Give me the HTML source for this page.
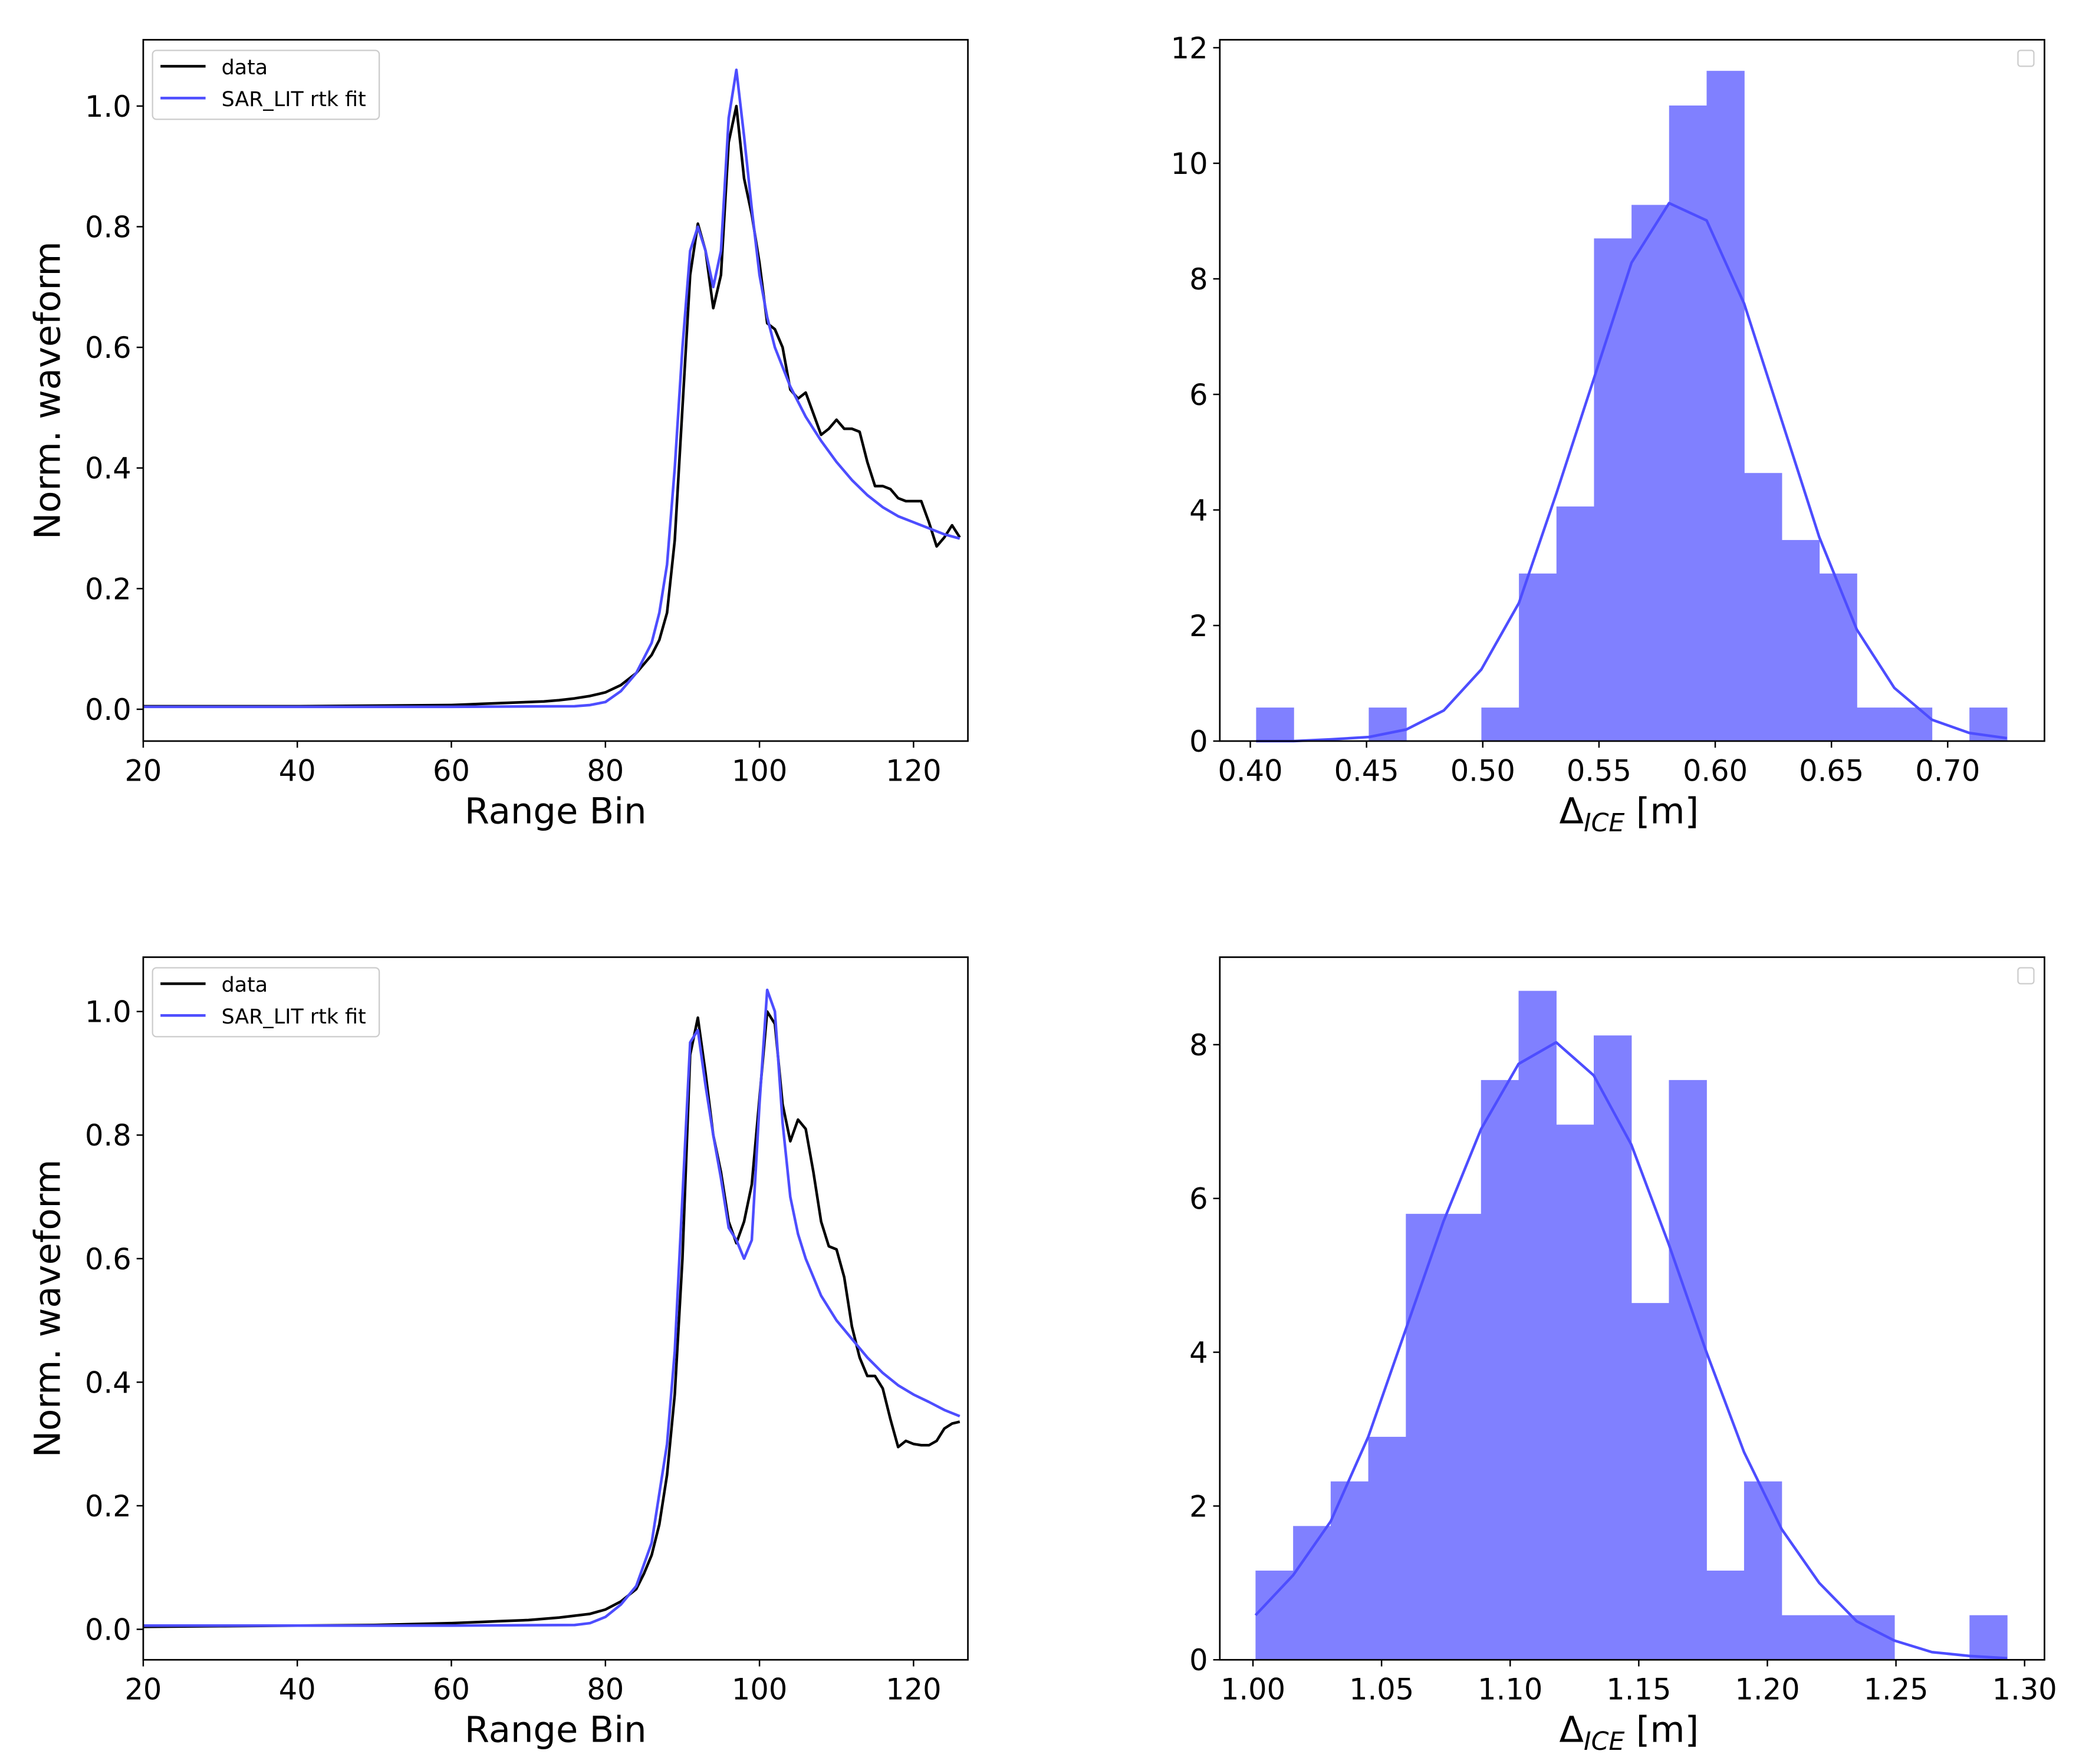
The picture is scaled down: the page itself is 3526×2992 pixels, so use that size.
<!DOCTYPE html>
<html><head><meta charset="utf-8"><style>
html,body{margin:0;padding:0;background:#fff}
svg{display:block}
text{font-family:"DejaVu Sans","Liberation Sans",sans-serif;fill:#000}
</style></head><body>
<svg id="fig" width="3526" height="2992" viewBox="0 0 1568 1330.6" xmlns="http://www.w3.org/2000/svg"></svg>
<script>
// ---- waveform data (top) ----
const binsTopData=[20,30,40,50,60,62,64,66,68,70,72,74,76,78,80,82,84,85,86,87,88,89,90,91,92,93,94,95,96,97,98,99,100,101,102,103,104,105,106,107,108,109,110,111,112,113,114,115,116,117,118,119,120,121,122,123,124,125,126];
const valsTopData=[0.005,0.005,0.005,0.006,0.007,0.008,0.009,0.010,0.011,0.012,0.013,0.015,0.018,0.022,0.028,0.04,0.06,0.075,0.09,0.115,0.16,0.28,0.5,0.72,0.805,0.76,0.665,0.72,0.94,1.0,0.88,0.82,0.74,0.64,0.63,0.6,0.53,0.515,0.525,0.49,0.455,0.465,0.48,0.465,0.465,0.46,0.41,0.37,0.37,0.365,0.35,0.345,0.345,0.345,0.31,0.27,0.285,0.305,0.285];
const binsTopFit=[20,40,60,76,78,80,82,84,86,87,88,89,90,91,92,93,94,95,96,97,98,99,100,101,102,104,106,108,110,112,114,116,118,120,122,124,126];
const valsTopFit=[0.004,0.004,0.004,0.005,0.007,0.012,0.03,0.06,0.11,0.16,0.24,0.4,0.6,0.76,0.8,0.76,0.7,0.76,0.98,1.06,0.95,0.83,0.72,0.65,0.6,0.535,0.485,0.445,0.41,0.38,0.355,0.335,0.32,0.31,0.3,0.29,0.283];
// ---- waveform data (bottom) ----
const binsBotData=[20,30,40,50,60,64,66,70,72,74,76,78,80,82,84,85,86,87,88,89,90,91,92,93,94,95,96,97,98,99,100,101,102,103,104,105,106,107,108,109,110,111,112,113,114,115,116,117,118,119,120,121,122,123,124,125,126];
const valsBotData=[0.004,0.005,0.006,0.007,0.01,0.012,0.013,0.015,0.017,0.019,0.022,0.025,0.032,0.045,0.065,0.09,0.12,0.17,0.25,0.38,0.6,0.93,0.99,0.9,0.8,0.74,0.66,0.625,0.66,0.72,0.86,1.0,0.98,0.85,0.79,0.825,0.81,0.74,0.66,0.62,0.615,0.57,0.49,0.44,0.41,0.41,0.39,0.34,0.295,0.305,0.3,0.298,0.298,0.305,0.325,0.333,0.336];
const binsBotFit=[20,40,60,76,78,80,82,84,86,88,89,90,91,92,93,94,95,96,97,98,99,100,101,102,103,104,105,106,108,110,112,114,116,118,120,122,124,126];
const valsBotFit=[0.006,0.006,0.006,0.007,0.01,0.02,0.04,0.07,0.14,0.3,0.45,0.7,0.95,0.97,0.88,0.8,0.73,0.65,0.63,0.6,0.63,0.85,1.035,1.0,0.82,0.7,0.64,0.6,0.54,0.5,0.47,0.44,0.415,0.395,0.38,0.368,0.355,0.345];
// ---- histograms ----
const hist1Start=0.4025, hist1Width=0.01615;
const hist1Counts=[0.58,0,0,0.58,0,0,0.58,2.9,4.06,8.7,9.28,11.0,11.6,4.64,3.48,2.9,0.58,0.58,0,0.58];
const hist1Fit=[0,0,0.03,0.07,0.2,0.53,1.24,2.39,4.29,6.28,8.28,9.31,9.01,7.57,5.55,3.53,1.93,0.92,0.37,0.14,0.05];
const hist2Start=1.001, hist2Width=0.01461;
const hist2Counts=[1.16,1.74,2.32,2.9,5.8,5.8,7.54,8.7,6.96,8.12,4.64,7.54,1.16,2.32,0.58,0.58,0.58,0,0,0.58];
const hist2Fit=[0.58,1.1,1.8,2.9,4.3,5.7,6.9,7.75,8.03,7.6,6.7,5.4,4.0,2.7,1.7,1.0,0.5,0.25,0.1,0.05,0.02];
const xTicksWave=[20,40,60,80,100,120];
const yTicksWave=[0,0.2,0.4,0.6,0.8,1.0];
const xTicksH1=[0.40,0.45,0.50,0.55,0.60,0.65,0.70];
const yTicksH1=[0,2,4,6,8,10,12];
const xTicksH2=[1.00,1.05,1.10,1.15,1.20,1.25,1.30];
const yTicksH2=[0,2,4,6,8];

const NS="http://www.w3.org/2000/svg";
const fig=document.getElementById('fig');
function el(tag,attrs,parent){const e=document.createElementNS(NS,tag);for(const k in attrs)e.setAttribute(k,attrs[k]);(parent||fig).appendChild(e);return e;}
function scale(d0,d1,r0,r1){return v=>r0+(v-d0)/(d1-d0)*(r1-r0);}

function axes(name,L,T,R,B,xs,ys,xt,yt,xfmt,yfmt){
  const g=el('g',{});
  
  
  xt.forEach(v=>{const x=xs(v);el('line',{x1:x,x2:x,y1:B,y2:B+5,stroke:'#000','stroke-width':1.1},g);
    const t=el('text',{x:x,y:B+30,'font-size':22,'text-anchor':'middle'},g);t.textContent=xfmt(v);
    });
  yt.forEach(v=>{const y=ys(v);el('line',{x1:L-5,x2:L,y1:y,y2:y,stroke:'#000','stroke-width':1.1},g);
    const t=el('text',{x:L-9,y:y+8,'font-size':22,'text-anchor':'end'},g);t.textContent=yfmt(v);
    });
  return g;
}
function frame(g,L,T,R,B){const r=el('rect',{x:L,y:T,width:R-L,height:B-T,fill:'none',stroke:'#000','stroke-width':1.2},g);
  }
function polyline(g,xs,ys,X,Y,color,name){
  const p=el('polyline',{points:X.map((v,i)=>xs(v)+','+ys(Y[i])).join(' '),fill:'none',stroke:color,'stroke-width':2,'stroke-linejoin':'round'},g);
  }

function wavePanel(name,T,B,y0px,y1px,dX,dY,fX,fY){
  const L=108,R=730;
  const xs=scale(20,120,108,689), ys=scale(0,1,y0px,y1px);
  const g=axes(name,L,T,R,B,xs,ys,xTicksWave,yTicksWave,v=>String(v),v=>v.toFixed(1));
  const cp=el('clipPath',{id:name+'-clip'},g);el('rect',{x:L,y:T,width:R-L,height:B-T},cp);
  const inner=el('g',{'clip-path':'url(#'+name+'-clip)'},g);
  polyline(inner,xs,ys,dX,dY,'#000','data-line');
  polyline(inner,xs,ys,fX,fY,'#4d4dff','fit-line');
  frame(g,L,T,R,B);
  const xl=el('text',{x:419,y:B+62,'font-size':27,'text-anchor':'middle'},g);xl.textContent='Range Bin';
  
  const yc=(T+B)/2;
  const yl=el('text',{x:45,y:yc,'font-size':27,'text-anchor':'middle',transform:'rotate(-90 45 '+yc+')'},g);yl.textContent='Norm. waveform';
  
  const lg=el('g',{},g);
  
  el('rect',{x:115,y:T+8,width:171,height:52,rx:3,fill:'#fff',stroke:'#ccc','stroke-width':1},lg);
  el('line',{x1:121,x2:155,y1:T+20,y2:T+20,stroke:'#000','stroke-width':2},lg);
  el('line',{x1:121,x2:155,y1:T+44,y2:T+44,stroke:'#4d4dff','stroke-width':2},lg);
  const a=el('text',{x:167,y:T+26,'font-size':15.5},lg);a.textContent='data';
  
  const b=el('text',{x:167,y:T+50,'font-size':15.5},lg);b.textContent='SAR_LIT rtk fit';
  
}
function histPanel(name,T,B,xs,ys,start,w,counts,fit,xt,yt){
  const L=920,R=1542;
  const g=axes(name,L,T,R,B,xs,ys,xt,yt,v=>v.toFixed(2),v=>String(v));
  counts.forEach((c,i)=>{if(c<=0)return;const x0=xs(start+i*w),x1=xs(start+(i+1)*w);
    const r=el('rect',{x:x0,y:ys(c),width:x1-x0+0.3,height:ys(0)-ys(c),fill:'#8080ff'},g);
    });
  polyline(g,xs,ys,fit.map((_,i)=>start+i*w),fit,'#4d4dff','gaussian-fit-line');
  frame(g,L,T,R,B);
  const xl=el('text',{x:1176,y:B+62,'font-size':27},g);
  
  xl.innerHTML='Δ<tspan font-size="19" font-style="italic" dy="6">ICE</tspan><tspan dy="-6"> [m]</tspan>';
  const lb=el('rect',{x:1522,y:T+8,width:12,height:12,rx:2,fill:'#fff',stroke:'#ccc','stroke-width':1},g);
  
}
wavePanel('waveform-top',30,559,535,80,binsTopData,valsTopData,binsTopFit,valsTopFit);
wavePanel('waveform-bottom',722,1252,1229,763,binsBotData,valsBotData,binsBotFit,valsBotFit);
histPanel('histogram-top',30,559,scale(0.40,0.70,943,1469),scale(0,12,559,36),hist1Start,hist1Width,hist1Counts,hist1Fit,xTicksH1,yTicksH1);
histPanel('histogram-bottom',722,1252,scale(1.00,1.30,945,1527),scale(0,8,1252,788),hist2Start,hist2Width,hist2Counts,hist2Fit,xTicksH2,yTicksH2);
</script>
</body></html>
